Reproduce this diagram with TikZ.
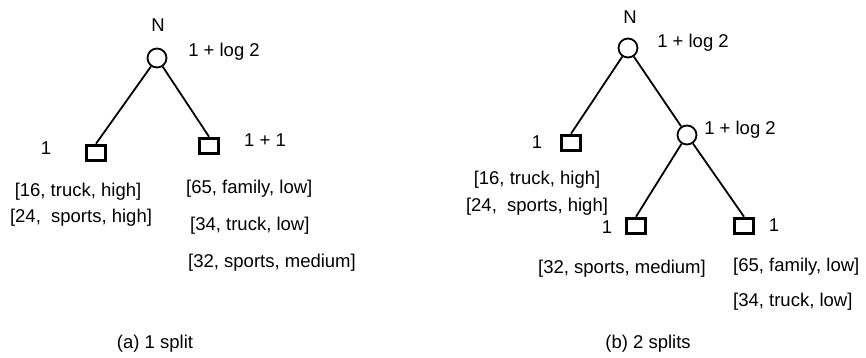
\documentclass[tikz,border=0pt]{standalone}
\usepackage{fontspec}
\setmainfont{Liberation Sans}
\begin{document}
\begin{tikzpicture}[x=1pt,y=-1pt,
  txt/.style={inner sep=0pt,font=\fontsize{18.5}{20}\selectfont},
  inode/.style={circle,draw,line width=1.8pt,minimum size=19pt,inner sep=0pt},
  leaf/.style={rectangle,draw,line width=3.6pt,minimum width=19pt,minimum height=15pt,inner sep=0pt},
  edge/.style={line width=1.8pt}]
\useasboundingbox (0,0) rectangle (866,358);
% (a)
\node[txt] (aN) at (158,25) {N};
\node[inode] (ar) at (157,58) {};
\node[txt] (arl) at (224,52) {1 + log 2};
\node[leaf] (al) at (96,153) {};
\node[txt] (all) at (46,148) {1};
\node[leaf] (ab) at (209,146) {};
\node[txt] (abl) at (265,140) {1 + 1};
\draw[edge] (ar) -- (al.north);
\draw[edge] (ar) -- (ab.north);
\node[txt] (a1) at (78,192) {[16, truck, high]};
\node[txt] (a2) at (81,218) {[24,\ \ sports, high]};
\node[txt,anchor=west] (a3) at (186,189) {[65, family, low]};
\node[txt,anchor=west] (a4) at (190,226) {[34, truck, low]};
\node[txt,anchor=west] (a5) at (188,263) {[32, sports, medium]};
\node[txt] (acap) at (155,344) {(a) 1 split};
% (b)
\node[txt] (bN) at (630,17) {N};
\node[inode] (br) at (628,48) {};
\node[txt] (brl) at (693,43) {1 + log 2};
\node[leaf] (bl) at (571,143) {};
\node[txt] (bll) at (537,142) {1};
\node[inode] (bc) at (687,135) {};
\node[txt] (bcl) at (740,130) {1 + log 2};
\node[leaf] (bcl1) at (636,226) {};
\node[txt] (bcl1l) at (607,227) {1};
\node[leaf] (bcr) at (744,226) {};
\node[txt] (bcrl) at (774,225) {1};
\draw[edge] (br) -- (bl.north);
\draw[edge] (br) -- (bc);
\draw[edge] (bc) -- (bcl1.north);
\draw[edge] (bc) -- (bcr.north);
\node[txt] (b1) at (537,180) {[16, truck, high]};
\node[txt] (b2) at (537,207) {[24,\ \ sports, high]};
\node[txt] (b3) at (622,269) {[32, sports, medium]};
\node[txt,anchor=west] (b4) at (733,267) {[65, family, low]};
\node[txt,anchor=west] (b5) at (733,302) {[34, truck, low]};
\node[txt] (bcap) at (648,344) {(b) 2 splits};
\end{tikzpicture}
\end{document}
